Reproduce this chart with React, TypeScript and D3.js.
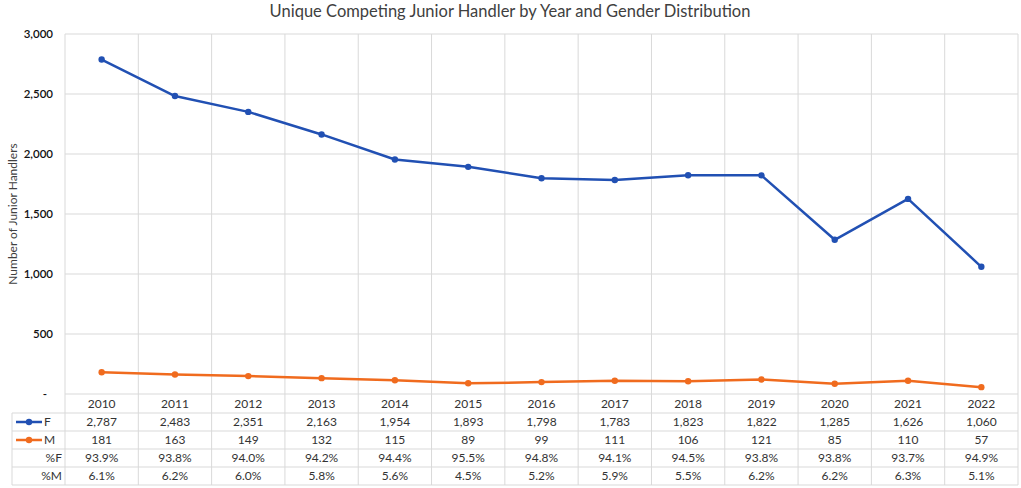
import React from 'react';
import * as d3 from 'd3';

const years = ['2010', '2011', '2012', '2013', '2014', '2015', '2016', '2017', '2018', '2019', '2020', '2021', '2022'];
const femaleCounts = [2787, 2483, 2351, 2163, 1954, 1893, 1798, 1783, 1823, 1822, 1285, 1626, 1060];
const maleCounts = [181, 163, 149, 132, 115, 89, 99, 111, 106, 121, 85, 110, 57];
const femalePct = ['93.9%', '93.8%', '94.0%', '94.2%', '94.4%', '95.5%', '94.8%', '94.1%', '94.5%', '93.8%', '93.8%', '93.7%', '94.9%'];
const malePct = ['6.1%', '6.2%', '6.0%', '5.8%', '5.6%', '4.5%', '5.2%', '5.9%', '5.5%', '6.2%', '6.2%', '6.3%', '5.1%'];
const yTicks = [0, 500, 1000, 1500, 2000, 2500, 3000];

const W = 1021;
const H = 488;
const plot = { left: 65, right: 1018, top: 34, bottom: 394 };
const tableLeft = 12;
const rowH = 18;
const FONT = 'Lato, "Noto Sans", sans-serif';
const BLUE = '#2150b3';
const ORANGE = '#f06b1e';
const GRID = '#d9d9d9';

function App() {
  const x = d3.scaleBand<string>().domain(years).range([plot.left, plot.right]);
  const y = d3.scaleLinear().domain([0, 3000]).range([plot.bottom, plot.top]);
  const cx = (yr: string) => (x(yr) ?? 0) + x.bandwidth() / 2;

  const line = d3
    .line<number>()
    .x((_, i) => cx(years[i]))
    .y((d) => y(d));

  const fmt = d3.format(',');
  const headerTop = plot.bottom;
  const rowTops = [1, 2, 3, 4].map((k) => headerTop + rowH * k + 1);
  const tableBottom = headerTop + rowH * 5 + 1;

  const rows = [
    { label: 'F', values: femaleCounts.map(fmt), color: BLUE },
    { label: 'M', values: maleCounts.map(fmt), color: ORANGE },
    { label: '%F', values: femalePct },
    { label: '%M', values: malePct },
  ];

  return (
    <svg
      width={W}
      height={H}
      style={{ position: 'absolute', left: 0, top: 0, background: '#fff' }}
      fontFamily={FONT}
    >
      <text x={510} y={17} textAnchor="middle" fontSize={16.5} fill="#404040">
        Unique Competing Junior Handler by Year and Gender Distribution
      </text>

      {/* horizontal gridlines */}
      {yTicks.map((t) => (
        <line key={t} x1={plot.left} x2={plot.right} y1={y(t)} y2={y(t)} stroke={GRID} strokeWidth={1} />
      ))}
      {/* vertical gridlines / table columns */}
      {years.map((yr) => (
        <line
          key={yr}
          x1={x(yr)}
          x2={x(yr)}
          y1={plot.top}
          y2={tableBottom}
          stroke={GRID}
          strokeWidth={1}
        />
      ))}
      <line x1={plot.right} x2={plot.right} y1={plot.top} y2={tableBottom} stroke={GRID} />
      <line x1={tableLeft} x2={tableLeft} y1={rowTops[0]} y2={tableBottom} stroke={GRID} />
      {rowTops.concat([tableBottom]).map((ry) => (
        <line key={ry} x1={tableLeft} x2={plot.right} y1={ry} y2={ry} stroke={GRID} />
      ))}

      {/* y axis ticks */}
      {yTicks.map((t) => (
        <text
          key={t}
          x={t === 0 ? 47 : 53}
          y={y(t)}
          dy="0.35em"
          textAnchor="end"
          fontSize={11.5}
          fontWeight={600}
          fill="#111"
        >
          {t === 0 ? '-' : fmt(t)}
        </text>
      ))}
      <text
        transform={`translate(17,${(plot.top + plot.bottom) / 2}) rotate(-90)`}
        textAnchor="middle"
        fontSize={12}
        fill="#404040"
      >
        Number  of Junior Handlers
      </text>

      {/* series */}
      <path d={line(femaleCounts) ?? ''} fill="none" stroke={BLUE} strokeWidth={2.5} strokeLinejoin="round" />
      {femaleCounts.map((v, i) => (
        <circle key={i} cx={cx(years[i])} cy={y(v)} r={3.2} fill={BLUE} />
      ))}
      <path d={line(maleCounts) ?? ''} fill="none" stroke={ORANGE} strokeWidth={2.5} strokeLinejoin="round" />
      {maleCounts.map((v, i) => (
        <circle key={i} cx={cx(years[i])} cy={y(v)} r={3.2} fill={ORANGE} />
      ))}

      {/* table header */}
      {years.map((yr) => (
        <text key={yr} x={cx(yr)} y={headerTop + 10} dy="0.35em" textAnchor="middle" fontSize={12} fill="#333">
          {yr}
        </text>
      ))}

      {/* table rows */}
      {rows.map((r, ri) => {
        const mid = rowTops[ri] + rowH / 2;
        return (
          <g key={r.label}>
            {r.color ? (
              <g>
                <line x1={16} x2={42} y1={mid} y2={mid} stroke={r.color} strokeWidth={2.5} />
                <circle cx={29} cy={mid} r={3.2} fill={r.color} />
                <text x={44} y={mid} dy="0.35em" fontSize={12} fill="#333">
                  {r.label}
                </text>
              </g>
            ) : (
              <text x={62} y={mid} dy="0.35em" textAnchor="end" fontSize={12} fill="#333">
                {r.label}
              </text>
            )}
            {r.values.map((v, i) => (
              <text key={i} x={cx(years[i])} y={mid} dy="0.35em" textAnchor="middle" fontSize={12} fill="#333">
                {v}
              </text>
            ))}
          </g>
        );
      })}
    </svg>
  );
}

export default App;
